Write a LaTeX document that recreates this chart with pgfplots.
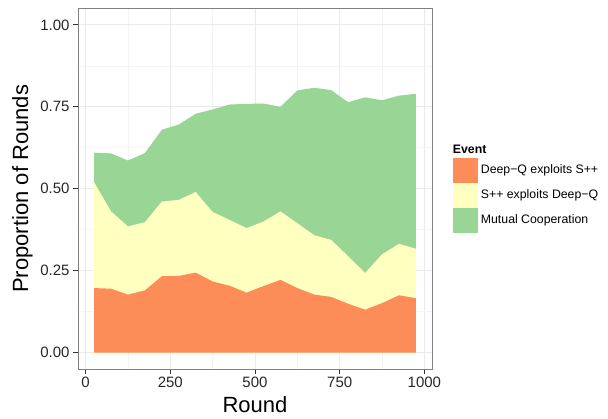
\documentclass[border=0pt]{standalone}
\usepackage{pgfplots}
\pgfplotsset{compat=1.18}
\usepackage{pgfplotstable}
\usepackage{fontspec}
\setmainfont{Liberation Sans}
\definecolor{cOr}{HTML}{FC8D59}
\definecolor{cYe}{HTML}{FFFFBF}
\definecolor{cGr}{HTML}{99D594}
\definecolor{gridmaj}{HTML}{EAEAEA}
\definecolor{gridmin}{HTML}{F4F4F4}
\pgfplotstableread{
x o y g
25 0.197 0.520 0.610
75 0.195 0.431 0.608
125 0.177 0.385 0.586
175 0.190 0.398 0.609
225 0.233 0.461 0.680
275 0.234 0.466 0.696
325 0.244 0.490 0.729
375 0.217 0.429 0.742
425 0.204 0.405 0.757
475 0.183 0.380 0.759
525 0.203 0.400 0.760
575 0.222 0.431 0.750
625 0.197 0.395 0.800
675 0.177 0.358 0.808
725 0.170 0.344 0.801
775 0.149 0.294 0.764
825 0.131 0.243 0.779
875 0.151 0.300 0.770
925 0.175 0.332 0.784
975 0.166 0.317 0.790
}\data
\begin{document}
\begin{tikzpicture}
\path[use as bounding box] (0bp,0bp) rectangle (608bp,419bp);
\begin{axis}[
  at={(78bp,50bp)}, anchor=south west,
  width=354bp, height=360.5bp, scale only axis,
  xmin=-22.5, xmax=1022.5, ymin=-0.05, ymax=1.05,
  xtick={0,250,500,750,1000}, xticklabels={0,250,500,750,1000},
  ytick={0,0.25,0.5,0.75,1}, yticklabels={0.00,0.25,0.50,0.75,1.00},
  minor xtick={125,375,625,875}, minor ytick={0.125,0.375,0.625,0.875},
  grid=both,
  major grid style={color=gridmaj, line width=0.9bp},
  minor grid style={color=gridmin, line width=0.6bp},
  axis line style={color=black!50, line width=0.9bp},
  tick align=outside, major tick length=5bp, minor tick length=0bp,
  xtick pos=lower, ytick pos=left,
  tick style={color=black!80, line width=0.8bp},
  ticklabel style={font=\fontsize{15bp}{17bp}\selectfont, text=black!85},
  /pgf/number format/assume math mode=true,
  xlabel={Round}, ylabel={Proportion of Rounds},
  label style={font=\fontsize{22bp}{26bp}\selectfont},
  xlabel style={at={(axis description cs:0.5,-0.1193)}, anchor=base},
  ylabel style={at={(axis description cs:-0.1412,0.5)}, anchor=base, rotate=0},
  legend style={at={(axis description cs:1.0585,0.626)}, anchor=north west,
    draw=none, fill=none, font=\fontsize{12.3bp}{14bp}\selectfont,
    row sep=0pt, column sep=3bp, inner sep=0pt, nodes={inner sep=0pt}},
  legend cell align=left,
  legend image code/.code={\fill[#1] (0bp,-12.5bp) rectangle (25bp,12.5bp);},
]
\addplot[fill=cGr, draw=none, forget plot] table[x=x,y=g]{\data} \closedcycle;
\addplot[fill=cYe, draw=none, forget plot] table[x=x,y=y]{\data} \closedcycle;
\addplot[fill=cOr, draw=none, forget plot] table[x=x,y=o]{\data} \closedcycle;
\addlegendimage{legend image code/.code={\path[draw=none,fill=none] (0bp,-8bp) rectangle (25bp,6bp);}}
\addlegendentry{\hspace*{-28bp}\textbf{Event}}
\addlegendimage{fill=cOr, draw=none}
\addlegendentry{Deep\textminus Q exploits S++}
\addlegendimage{fill=cYe, draw=none}
\addlegendentry{S++ exploits Deep\textminus Q}
\addlegendimage{fill=cGr, draw=none}
\addlegendentry{Mutual Cooperation}
\end{axis}
\end{tikzpicture}
\end{document}
